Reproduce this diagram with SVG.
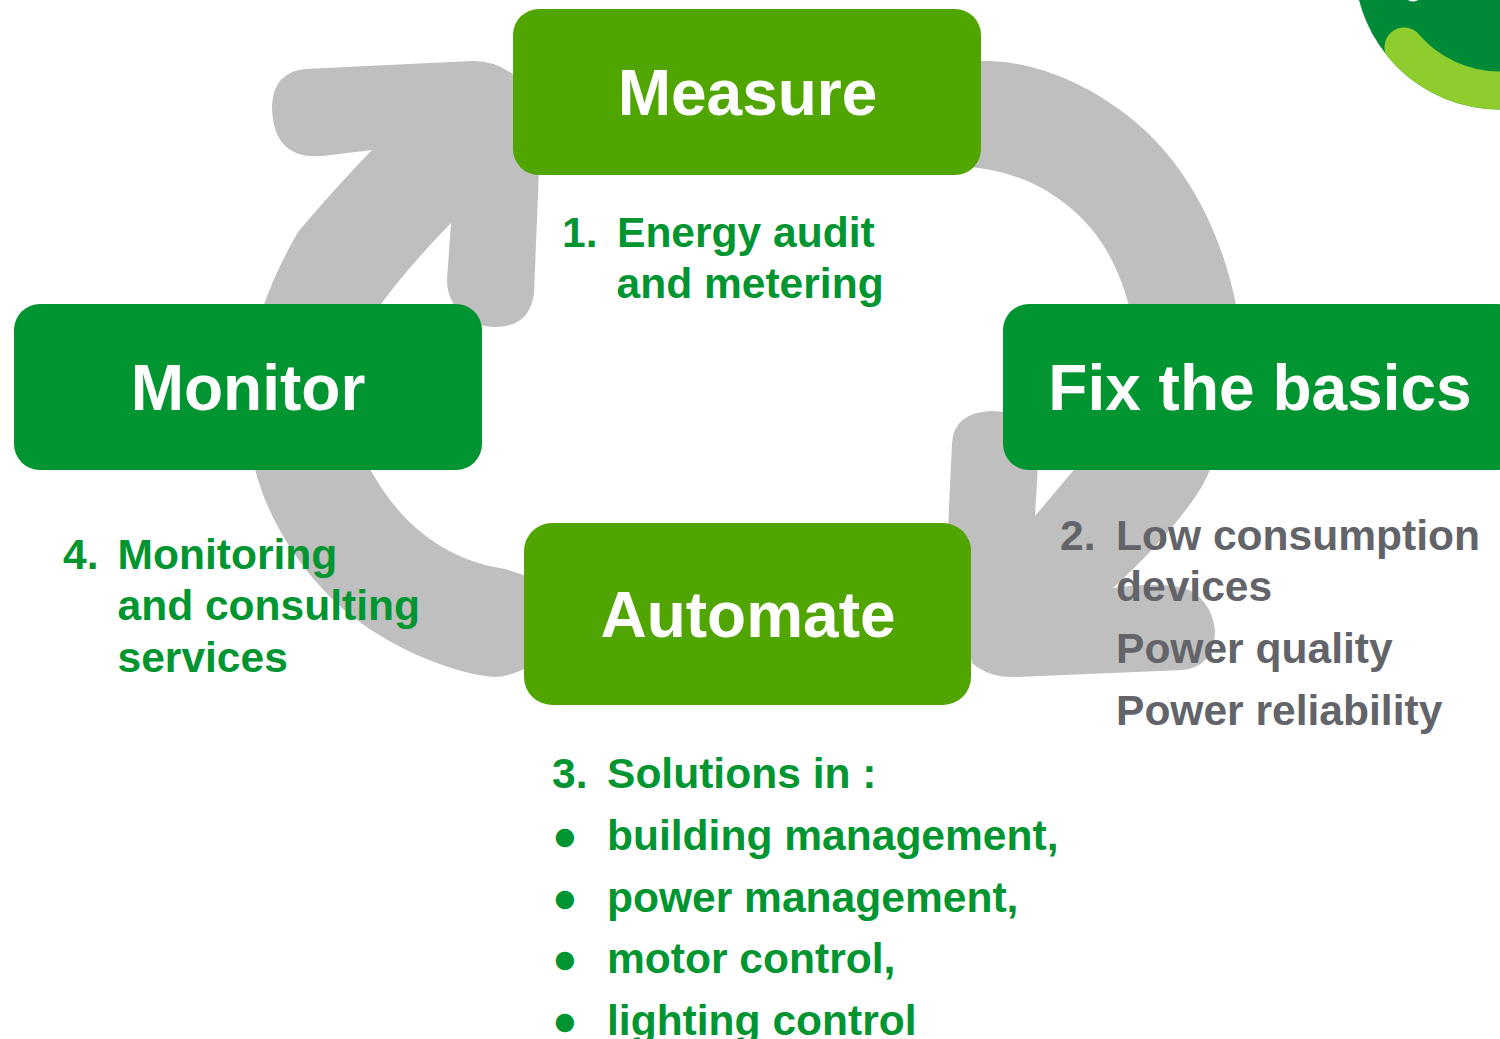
<svg xmlns="http://www.w3.org/2000/svg" width="1500" height="1039" viewBox="0 0 1500 1039">
<style>
text{font-family:"Liberation Sans",Arial,sans-serif;font-weight:700}
.box{stroke:none}
.dk{fill:#009530}
.lt{fill:#50A500}
.title{fill:#fff;font-size:64px;text-anchor:middle}
.g{fill:#009530;font-size:42.55px}
.y{fill:#626469;font-size:42.55px}
.arrow{fill:#BFBFBF;stroke:none}
</style>
<defs><clipPath id="c"><circle cx="1500" cy="-36" r="145.5"/></clipPath></defs>
<g id="corner">
<circle cx="1500" cy="-36" r="145.5" fill="#008A38"/>
<path d="M1404 47A127 127 0 0 0 1500 91" fill="none" stroke="#8FCC2D" stroke-width="39" stroke-linecap="round" clip-path="url(#c)"/>
<ellipse cx="1413" cy="-2" rx="6" ry="3.5" fill="#fff"/>
</g>
<g id="connectors">
<path class="arrow" d="M305 69L472 61Q498 60 520 80L539 170L534 293Q530 327 495 327Q480 327 470 320Q447 305 447 280L451 223Q410 265 381 304L370 320L262 310Q275 272 298 232Q335 188 372 150L322 156Q272 160 272 105Q274 72 305 69Z"/>
<path class="arrow" d="M970 61L990 61C1040 63 1090 85 1133 120C1185 162 1222 230 1237 310L1130 310C1118 262 1098 232 1073 210C1047 188 1018 172 970 167Z"/>
<path class="arrow" d="M1010 412L990 411Q954 413 952 443L948 530L972 663Q988 677 1013 677L1183 670Q1215 666 1215 630Q1212 605 1193 592Q1170 580 1113 588Q1160 545 1188 507Q1203 488 1212 465L1078 465L1035 516L1038 465Z"/>
<path class="arrow" d="M254 465C268 525 310 585 357 620C390 645 445 672 493 677Q510 677 530 666L530 578Q515 571 500 568C440 558 395 518 368 465Z"/>
</g>
<g id="measure"><rect class="box lt" x="513" y="9" width="468" height="166" rx="26"/><text class="title" x="747.5" y="115">Measure</text></g>
<g id="monitor"><rect class="box dk" x="14" y="304" width="468" height="166" rx="26"/><text class="title" x="248" y="410">Monitor</text></g>
<g id="fix"><rect class="box dk" x="1003" y="304" width="520" height="166" rx="26"/><text class="title" x="1260" y="410">Fix the basics</text></g>
<g id="automate"><rect class="box lt" x="524" y="523" width="447" height="182" rx="28"/><text class="title" x="748" y="637">Automate</text></g>
<g id="note1"><text class="g" x="562" y="247">1.</text><text class="g" x="617" y="247">Energy audit</text><text class="g" x="616.5" y="298">and metering</text></g>
<g id="note2"><text class="y" x="1060" y="550">2.</text><text class="y" x="1116" y="550">Low consumption</text><text class="y" x="1116" y="601">devices</text><text class="y" x="1116" y="663">Power quality</text><text class="y" x="1116" y="725">Power reliability</text></g>
<g id="note3"><text class="g" x="552" y="788">3.</text><text class="g" x="607" y="788">Solutions in :</text>
<text class="g" x="552" y="850">●</text><text class="g" x="607" y="850">building management,</text>
<text class="g" x="552" y="912">●</text><text class="g" x="607" y="912">power management,</text>
<text class="g" x="552" y="973">●</text><text class="g" x="607" y="973">motor control,</text>
<text class="g" x="552" y="1035">●</text><text class="g" x="607" y="1035">lighting control</text></g>
<g id="note4"><text class="g" x="63" y="569">4.</text><text class="g" x="117.5" y="569">Monitoring</text><text class="g" x="117.5" y="620">and consulting</text><text class="g" x="117.5" y="672">services</text></g>
</svg>
